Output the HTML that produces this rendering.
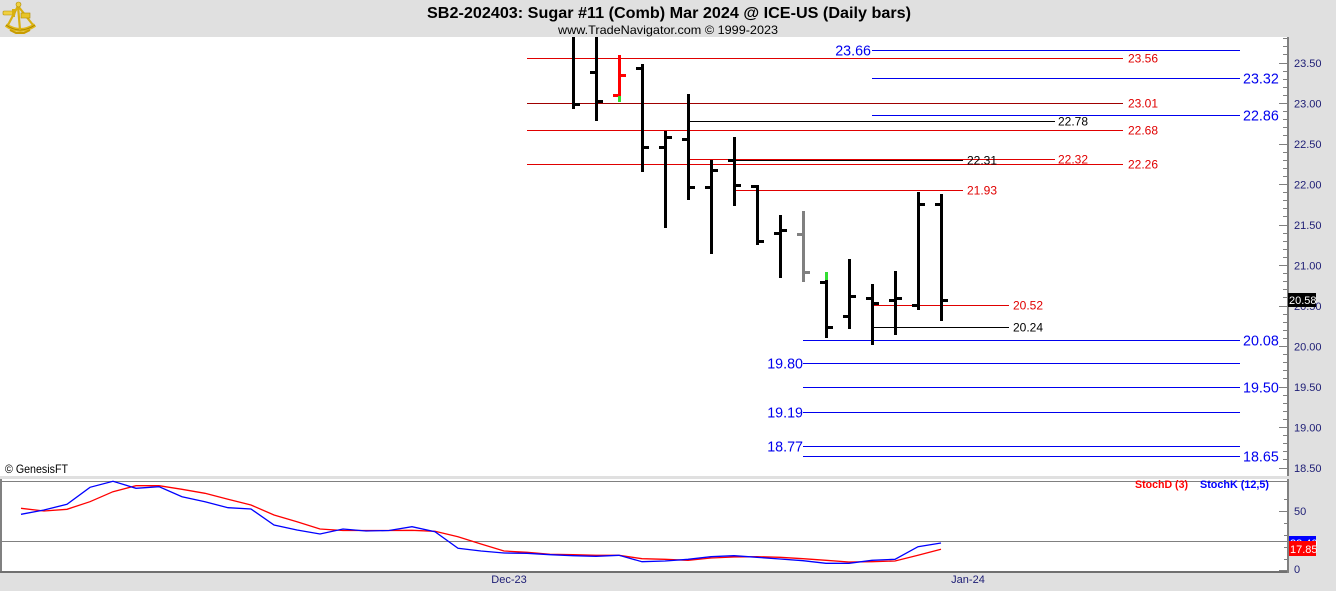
<!DOCTYPE html>
<html><head><meta charset="utf-8"><style>
html,body{margin:0;padding:0;background:#e0e0e0;}
svg{display:block;font-family:"Liberation Sans",Arial,sans-serif;}
</style></head><body>
<svg width="1336" height="591" viewBox="0 0 1336 591" xmlns="http://www.w3.org/2000/svg">
<rect x="0" y="0" width="1336" height="591" fill="#e0e0e0"/>
<!-- main panel -->
<rect x="0" y="37" width="1287" height="439" fill="#ffffff"/>
<!-- lower panel -->
<rect x="1" y="479" width="1286" height="93" fill="#ffffff"/>

<!-- header logo (sextant) -->
<g>
<path d="M6 25 Q20 35 35 25" stroke="#e0b818" stroke-width="4" fill="none"/>
<path d="M6 25 Q20 35 35 25" stroke="#a88400" stroke-width="1" fill="none"/>
<path d="M18 6 L8 25 M18 6 L33 25 M18 6 L20 30" stroke="#d8b010" stroke-width="2.2" fill="none"/>
<rect x="3" y="11" width="12" height="4" rx="1" fill="#f0d040" stroke="#b08c00" stroke-width="0.6"/>
<rect x="12" y="9" width="3" height="8" fill="#d8b010"/>
<circle cx="18.5" cy="4.5" r="2.5" fill="#f0d040" stroke="#b08c00" stroke-width="0.6"/>
<rect x="21" y="13" width="9" height="5" fill="#e8c428" stroke="#b08c00" stroke-width="0.6"/>
<path d="M10 30 L16 33 L24 33 L30 30" stroke="#c89c00" stroke-width="2" fill="none"/>
</g>
<text x="427" y="18" font-size="16" font-weight="bold" fill="#000" textLength="484" lengthAdjust="spacingAndGlyphs">SB2-202403:  Sugar #11 (Comb) Mar 2024 @ ICE-US  (Daily bars)</text>
<text x="558" y="34" font-size="12" fill="#000" textLength="220" lengthAdjust="spacingAndGlyphs">www.TradeNavigator.com © 1999-2023</text>

<!-- main axis -->
<rect x="1287" y="37" width="2" height="439" fill="#808080"/>
<path stroke="#808080" stroke-width="1" fill="none" d="
M1283 38.5H1287 M1283 46.5H1287 M1283 54.5H1287 M1279 63.5H1287 M1283 71.5H1287 M1283 79.5H1287 M1283 87.5H1287 M1283 95.5H1287
M1279 103.5H1287 M1283 111.5H1287 M1283 119.5H1287 M1283 127.5H1287 M1283 135.5H1287 M1279 144.5H1287 M1283 152.5H1287 M1283 160.5H1287
M1283 168.5H1287 M1283 176.5H1287 M1279 184.5H1287 M1283 192.5H1287 M1283 200.5H1287 M1283 208.5H1287 M1283 216.5H1287 M1279 225.5H1287
M1283 233.5H1287 M1283 241.5H1287 M1283 249.5H1287 M1283 257.5H1287 M1279 265.5H1287 M1283 273.5H1287 M1283 281.5H1287 M1283 289.5H1287
M1283 297.5H1287 M1279 306.5H1287 M1283 314.5H1287 M1283 322.5H1287 M1283 330.5H1287 M1283 338.5H1287 M1279 346.5H1287 M1283 354.5H1287
M1283 362.5H1287 M1283 370.5H1287 M1283 378.5H1287 M1279 387.5H1287 M1283 395.5H1287 M1283 403.5H1287 M1283 411.5H1287 M1283 419.5H1287
M1279 427.5H1287 M1283 435.5H1287 M1283 443.5H1287 M1283 451.5H1287 M1283 459.5H1287 M1279 468.5H1287"/>
<g font-size="11" fill="#1c1c74">
<text x="1294" y="67">23.50</text>
<text x="1294" y="107.5">23.00</text>
<text x="1294" y="148">22.50</text>
<text x="1294" y="188.5">22.00</text>
<text x="1294" y="229">21.50</text>
<text x="1294" y="269.5">21.00</text>
<text x="1294" y="310">20.50</text>
<text x="1294" y="350.5">20.00</text>
<text x="1294" y="391">19.50</text>
<text x="1294" y="431.5">19.00</text>
<text x="1294" y="472">18.50</text>
</g>
<rect x="1288" y="293" width="28" height="14" fill="#000"/>
<text x="1289" y="304" font-size="11" fill="#fff">20.58</text>

<!-- horizontal levels -->
<g stroke-width="1" fill="none">
<path stroke="#e00000" d="M527 58.5H1123 M527 130.5H1123 M527 164.5H1123 M688 159.5H1055 M734 190.5H963 M872 305.5H1009"/>
<path stroke="#a00000" d="M527 103.5H1123"/>
<path stroke="#000" d="M690 121.5H1055 M728 160.5H963 M872 327.5H1009"/>
<path stroke="#0000ee" d="M872 50.5H1240 M872 78.5H1240 M872 115.5H1240 M803 340.5H1240 M803 363.5H1240 M803 387.5H1240 M803 412.5H1240 M803 446.5H1240 M803 456.5H1240"/>
</g>
<g font-size="12">
<text x="1128" y="62.5" fill="#e00000">23.56</text>
<text x="1128" y="107.5" fill="#e00000">23.01</text>
<text x="1128" y="134.5" fill="#e00000">22.68</text>
<text x="1128" y="168.5" fill="#e00000">22.26</text>
<text x="1058" y="163.5" fill="#e00000">22.32</text>
<text x="967" y="194.5" fill="#e00000">21.93</text>
<text x="1013" y="309.5" fill="#e00000">20.52</text>
<text x="1058" y="125.5" fill="#000">22.78</text>
<text x="967" y="164.5" fill="#000">22.31</text>
<text x="1013" y="331.5" fill="#000">20.24</text>
</g>
<g font-size="14.3" fill="#0000ee">
<text x="871" y="55.5" text-anchor="end">23.66</text>
<text x="1243" y="83.5">23.32</text>
<text x="1243" y="120.5">22.86</text>
<text x="1243" y="345.5">20.08</text>
<text x="803" y="368.5" text-anchor="end">19.80</text>
<text x="1243" y="392.5">19.50</text>
<text x="803" y="417.5" text-anchor="end">19.19</text>
<text x="803" y="451.5" text-anchor="end">18.77</text>
<text x="1243" y="461.5">18.65</text>
</g>

<!-- bars -->
<g fill="#000">
<rect x="572" y="37" width="3" height="72"/><rect x="575" y="103" width="5" height="3"/>
<rect x="595" y="37" width="3" height="84"/><rect x="590" y="71" width="5" height="3"/><rect x="598" y="100" width="5" height="3"/>
<rect x="641" y="64" width="3" height="108"/><rect x="636" y="67" width="5" height="3"/><rect x="644" y="146" width="5" height="3"/>
<rect x="664" y="131" width="3" height="97"/><rect x="659" y="146" width="5" height="3"/><rect x="667" y="136" width="5" height="3"/>
<rect x="687" y="94" width="3" height="106"/><rect x="682" y="138" width="5" height="3"/><rect x="690" y="186" width="5" height="3"/>
<rect x="710" y="160" width="3" height="94"/><rect x="705" y="186" width="5" height="3"/><rect x="713" y="169" width="5" height="3"/>
<rect x="733" y="137" width="3" height="69"/><rect x="728" y="159" width="5" height="3"/><rect x="736" y="184" width="5" height="3"/>
<rect x="756" y="185" width="3" height="60"/><rect x="751" y="185" width="5" height="3"/><rect x="759" y="240" width="5" height="3"/>
<rect x="779" y="215" width="3" height="63"/><rect x="774" y="232" width="5" height="3"/><rect x="782" y="229" width="5" height="3"/>
<rect x="825" y="280" width="3" height="58"/><rect x="820" y="281" width="5" height="3"/><rect x="828" y="326" width="5" height="3"/>
<rect x="848" y="259" width="3" height="70"/><rect x="843" y="315" width="5" height="3"/><rect x="851" y="295" width="5" height="3"/>
<rect x="871" y="284" width="3" height="61"/><rect x="866" y="297" width="5" height="3"/><rect x="874" y="302" width="5" height="3"/>
<rect x="894" y="271" width="3" height="64"/><rect x="889" y="299" width="5" height="3"/><rect x="897" y="297" width="5" height="3"/>
<rect x="917" y="192" width="3" height="118"/><rect x="912" y="304" width="5" height="3"/><rect x="920" y="203" width="5" height="3"/>
<rect x="940" y="194" width="3" height="127"/><rect x="935" y="203" width="5" height="3"/><rect x="943" y="299" width="5" height="3"/>
</g>
<g fill="#ff0000">
<rect x="618" y="55" width="3" height="41"/><rect x="613" y="94" width="5" height="3"/><rect x="621" y="74" width="5" height="3"/>
</g>
<rect x="618" y="96" width="3" height="6" fill="#33dd33"/>
<rect x="825" y="272" width="3" height="8" fill="#33dd33"/>
<g fill="#808080">
<rect x="802" y="211" width="3" height="71"/><rect x="797" y="233" width="5" height="3"/><rect x="805" y="271" width="5" height="3"/>
</g>
<text x="5" y="473" font-size="12" fill="#000" textLength="63" lengthAdjust="spacingAndGlyphs">© GenesisFT</text>

<!-- lower panel frame -->
<rect x="0" y="479" width="2" height="94" fill="#808080"/>
<rect x="0" y="481" width="1288" height="1" fill="#808080"/>
<rect x="2" y="541" width="1286" height="1" fill="#808080"/>
<rect x="0" y="571" width="1289" height="2" fill="#707070"/>
<rect x="1287" y="479" width="2" height="94" fill="#808080"/>
<path stroke="#808080" stroke-width="1" d="M1284 499.5H1287 M1279 511.5H1287 M1284 523.5H1287 M1284 535.5H1287 M1284 547.5H1287 M1284 559.5H1287 M1279 570.5H1287"/>
<text x="1294" y="515" font-size="11" fill="#1c1c74">50</text>
<text x="1294" y="573" font-size="11" fill="#1c1c74">0</text>
<text x="1135" y="488" font-size="11" font-weight="bold" fill="#ff0000" textLength="53" lengthAdjust="spacingAndGlyphs">StochD (3)</text>
<text x="1200" y="488" font-size="11" font-weight="bold" fill="#0000ff" textLength="69" lengthAdjust="spacingAndGlyphs">StochK (12,5)</text>

<polyline fill="none" stroke="#ff0000" stroke-width="1.3" points="21,508.3 44,511 67,509.3 90,501.7 113,491.7 136,485.7 159,485.7 182,489.3 205,493.3 228,499.3 251,505 274,515 297,521.7 320,529 343,530.5 366,530.5 389,530.5 412,530.3 435,531.3 458,536.7 481,544 504,551 527,552.3 550,554.3 573,554.7 596,555.3 619,555.3 642,558.7 665,559.3 688,560.3 711,558 734,557 757,556.7 780,557.3 803,558.7 826,560.3 849,562 872,561.7 895,561 918,555.3 941,549.3"/>
<polyline fill="none" stroke="#0000ff" stroke-width="1.3" points="21,514.3 44,510 67,504.3 90,487.3 113,481.3 136,488.3 159,486.7 182,496.7 205,501.7 228,507.7 251,509 274,525 297,530 320,534 343,529 366,531 389,530.5 412,526.7 435,531.7 458,548.3 481,551 504,553 527,553.3 550,554.7 573,555.7 596,556.3 619,555.3 642,561.7 665,561 688,559.3 711,556.7 734,555.7 757,557.3 780,559 803,560.7 826,563.3 849,563.3 872,560.3 895,559.3 918,546.7 941,543"/>

<!-- value boxes lower -->
<rect x="1289" y="536" width="27" height="15" fill="#0000ff"/>
<text x="1290" y="547" font-size="11" fill="#fff">22.40</text>
<rect x="1289" y="541" width="27" height="15" fill="#ff0000"/>
<text x="1290" y="553" font-size="11" fill="#fff">17.85</text>

<!-- x labels -->
<text x="509" y="583" font-size="11" fill="#1c1c74" text-anchor="middle">Dec-23</text>
<text x="968" y="583" font-size="11" fill="#1c1c74" text-anchor="middle">Jan-24</text>
</svg>
</body></html>
